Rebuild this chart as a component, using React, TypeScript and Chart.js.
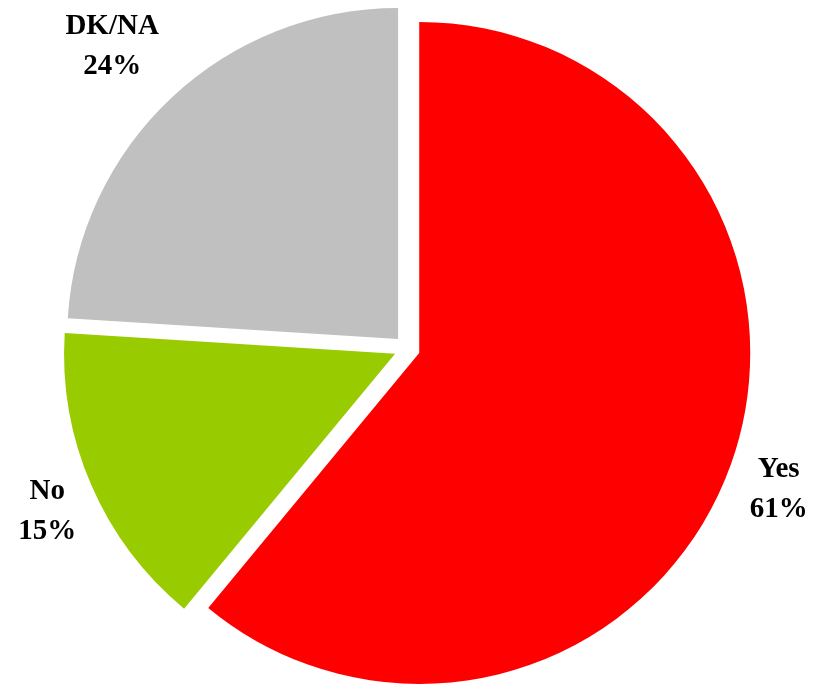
import React, { useEffect, useRef } from "react";
import { Chart, registerables } from "chart.js";

Chart.register(...registerables);

const categories = ["Yes", "No", "DK/NA"];
const values = [61, 15, 24];
const percentLabels = ["61%", "15%", "24%"];
const colors = ["#ff0000", "#99cc00", "#c0c0c0"];
const labelGaps = [22, 19, 40];

// Explode every slice by the same distance along its bisector (Excel-style)
const explodePie = {
  id: "explodePie",
  beforeDatasetDraw(chart: any, args: any, opts: any) {
    const ctx = chart.ctx;
    const meta = args.meta;
    const dist = opts.distance || 0;
    meta.data.forEach((arc: any) => {
      const { startAngle, endAngle } = arc.getProps(["startAngle", "endAngle"], true);
      const mid = (startAngle + endAngle) / 2;
      ctx.save();
      ctx.translate(Math.cos(mid) * dist, Math.sin(mid) * dist);
      arc.draw(ctx, chart.chartArea);
      ctx.restore();
    });
    return false;
  },
};

const outsideLabels = {
  id: "outsideLabels",
  afterDatasetsDraw(chart: any, _args: any, opts: any) {
    const ctx = chart.ctx;
    const meta = chart.getDatasetMeta(0);
    ctx.save();
    ctx.font = "bold 29px 'Liberation Serif', 'Times New Roman', serif";
    ctx.fillStyle = "#000";
    ctx.textAlign = "center";
    ctx.textBaseline = "alphabetic";
    const lh = 40;
    const capHalf = 12;
    meta.data.forEach((arc: any, i: number) => {
      const { x, y, startAngle, endAngle, outerRadius } = arc.getProps(
        ["x", "y", "startAngle", "endAngle", "outerRadius"],
        true
      );
      const mid = (startAngle + endAngle) / 2;
      const dx = Math.cos(mid);
      const dy = Math.sin(mid);
      const t = opts.explode;
      const cx = x + dx * t;
      const cy = y + dy * t;
      const lines = [opts.names[i], opts.pcts[i]];
      const w = Math.max(...lines.map((s: string) => ctx.measureText(s).width));
      const halfW = w / 2;
      const halfH = 37;
      const d = outerRadius + opts.gaps[i];
      const lx = cx + dx * d + dx * halfW;
      const ly = cy + dy * d + dy * halfH;
      ctx.fillText(lines[0], lx, ly - lh / 2 + capHalf);
      ctx.fillText(lines[1], lx, ly + lh / 2 + capHalf);
    });
    ctx.restore();
  },
};

export default function App() {
  const ref = useRef<HTMLCanvasElement>(null);
  useEffect(() => {
    document.body.style.margin = "0";
    const chart = new Chart(ref.current as HTMLCanvasElement, {
      type: "pie",
      data: {
        labels: categories,
        datasets: [
          {
            data: values,
            backgroundColor: colors,
            borderWidth: 0,
          },
        ],
      },
      options: {
        animation: false,
        responsive: false,
        radius: 331,
        layout: { padding: { top: 13, bottom: 0, left: 0, right: 0 } },
        plugins: {
          legend: { display: false },
          tooltip: { enabled: false },
          explodePie: { distance: 13 },
          outsideLabels: { names: categories, pcts: percentLabels, gaps: labelGaps, explode: 13 },
        } as any,
      },
      plugins: [explodePie, outsideLabels],
    });
    return () => chart.destroy();
  }, []);
  return (
    <div style={{ width: 814, height: 684 }}>
      <canvas ref={ref} width={814} height={684} style={{ display: "block" }} />
    </div>
  );
}
